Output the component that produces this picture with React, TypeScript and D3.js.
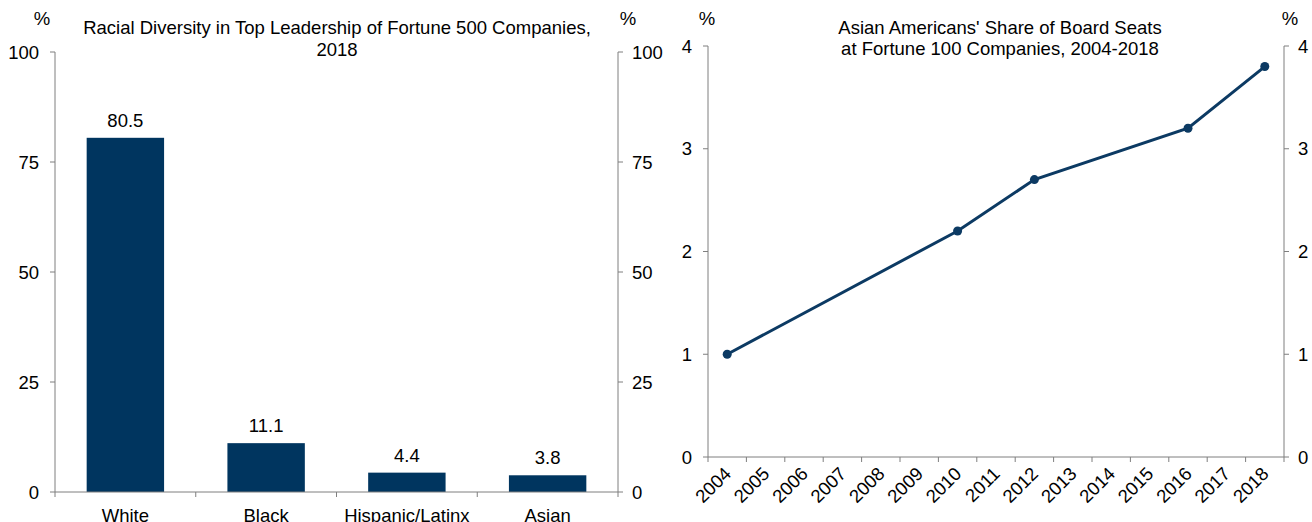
import React from "react";
import * as d3 from "d3";

const barCategories = ["White", "Black", "Hispanic/Latinx", "Asian"];
const barValues = [80.5, 11.1, 4.4, 3.8];
const barTicks = [0, 25, 50, 75, 100];

const years = ["2004","2005","2006","2007","2008","2009","2010","2011","2012","2013","2014","2015","2016","2017","2018"];
const lineYears = ["2004", "2010", "2012", "2016", "2018"];
const lineValues = [1.0, 2.2, 2.7, 3.2, 3.8];
const lineTicks = [0, 1, 2, 3, 4];

const W = 1312, H = 522;
const NAVY = "#00355F";
const LINE = "#0C3A63";
const AXIS = "#7f7f7f";
const FONT = "'Liberation Sans', Arial, sans-serif";

export default function App() {
  // left chart
  const lx0 = 55, lx1 = 618, ly0 = 492, ly1 = 52;
  const xb = d3.scaleBand().domain(barCategories).range([lx0, lx1]).paddingInner(0.45).paddingOuter(0.225);
  const xbOuter = d3.scaleBand().domain(barCategories).range([lx0, lx1]);
  const yb = d3.scaleLinear().domain([0, 100]).range([ly0, ly1]);

  // right chart
  const rx0 = 708, rx1 = 1284, ry0 = 457, ry1 = 46;
  const xl = d3.scaleBand().domain(years).range([rx0, rx1]);
  const yl = d3.scaleLinear().domain([0, 4]).range([ry0, ry1]);
  const pts = lineYears.map((y, i) => [xl(y)! + xl.bandwidth() / 2, yl(lineValues[i])] as [number, number]);
  const linePath = d3.line()(pts) || "";

  const fs = 18.5;
  const half = 6.6;

  return (
    <svg width={W} height={H} style={{ position: "absolute", left: 0, top: 0, background: "#fff" }} fontFamily={FONT}>
      {/* LEFT CHART */}
      <text x={337} y={34} fontSize={fs} textAnchor="middle" fill="#000">Racial Diversity in Top Leadership of Fortune 500 Companies,</text>
      <text x={337} y={55.5} fontSize={fs} textAnchor="middle" fill="#000">2018</text>
      <text x={42} y={24.5} fontSize={fs} textAnchor="middle">%</text>
      <text x={628} y={24.5} fontSize={fs} textAnchor="middle">%</text>

      {barCategories.map((c, i) => (
        <g key={c}>
          <rect x={xb(c)} y={yb(barValues[i])} width={xb.bandwidth()} height={ly0 - yb(barValues[i])} fill={NAVY} />
          <text x={xb(c)! + xb.bandwidth() / 2} y={yb(barValues[i]) - 11} fontSize={fs} textAnchor="middle">{barValues[i].toFixed(1)}</text>
          <text x={xbOuter(c)! + xbOuter.bandwidth() / 2} y={521.5} fontSize={fs} textAnchor="middle">{c}</text>
        </g>
      ))}
      <line x1={lx0} x2={lx0} y1={ly1} y2={ly0} stroke={AXIS} />
      <line x1={lx1} x2={lx1} y1={ly1} y2={ly0} stroke={AXIS} />
      <line x1={lx0} x2={lx1} y1={ly0} y2={ly0} stroke={AXIS} />
      {barTicks.map(t => (
        <g key={t}>
          <line x1={lx0 - 5} x2={lx0} y1={yb(t)} y2={yb(t)} stroke={AXIS} />
          <line x1={lx1} x2={lx1 + 5} y1={yb(t)} y2={yb(t)} stroke={AXIS} />
          <text x={lx0 - 16} y={yb(t) + half} fontSize={fs} textAnchor="end">{t}</text>
          <text x={lx1 + 14} y={yb(t) + half} fontSize={fs} textAnchor="start">{t}</text>
        </g>
      ))}
      {[...barCategories.map(c => xbOuter(c)!), lx1].map((x, i) => (
        <line key={i} x1={x} x2={x} y1={ly0} y2={ly0 + 5} stroke={AXIS} />
      ))}

      {/* RIGHT CHART */}
      <text x={1000} y={34} fontSize={fs} textAnchor="middle">Asian Americans' Share of Board Seats</text>
      <text x={1000} y={55} fontSize={fs} textAnchor="middle">at Fortune 100 Companies, 2004-2018</text>
      <text x={707} y={24.5} fontSize={fs} textAnchor="middle">%</text>
      <text x={1290} y={24.5} fontSize={fs} textAnchor="middle">%</text>

      <line x1={rx0} x2={rx0} y1={ry1} y2={ry0} stroke={AXIS} />
      <line x1={rx1} x2={rx1} y1={ry1} y2={ry0} stroke={AXIS} />
      <line x1={rx0} x2={rx1} y1={ry0} y2={ry0} stroke={AXIS} />
      {lineTicks.map(t => (
        <g key={t}>
          <line x1={rx0 - 5} x2={rx0} y1={yl(t)} y2={yl(t)} stroke={AXIS} />
          <line x1={rx1} x2={rx1 + 5} y1={yl(t)} y2={yl(t)} stroke={AXIS} />
          <text x={rx0 - 16} y={yl(t) + half} fontSize={fs} textAnchor="end">{t}</text>
          <text x={rx1 + 14} y={yl(t) + half} fontSize={fs} textAnchor="start">{t}</text>
        </g>
      ))}
      {[...years.map(y => xl(y)!), rx1].map((x, i) => (
        <line key={i} x1={x} x2={x} y1={ry0} y2={ry0 + 5} stroke={AXIS} />
      ))}
      {years.map(y => {
        const cx = xl(y)! + xl.bandwidth() / 2;
        return (
          <text key={y} x={0} y={0} fontSize={fs} textAnchor="end"
            transform={`translate(${cx + 5},${ry0 + 18}) rotate(-45)`}>{y}</text>
        );
      })}
      <path d={linePath} fill="none" stroke={LINE} strokeWidth={3} />
      {pts.map((p, i) => <circle key={i} cx={p[0]} cy={p[1]} r={4.5} fill={LINE} />)}
    </svg>
  );
}
